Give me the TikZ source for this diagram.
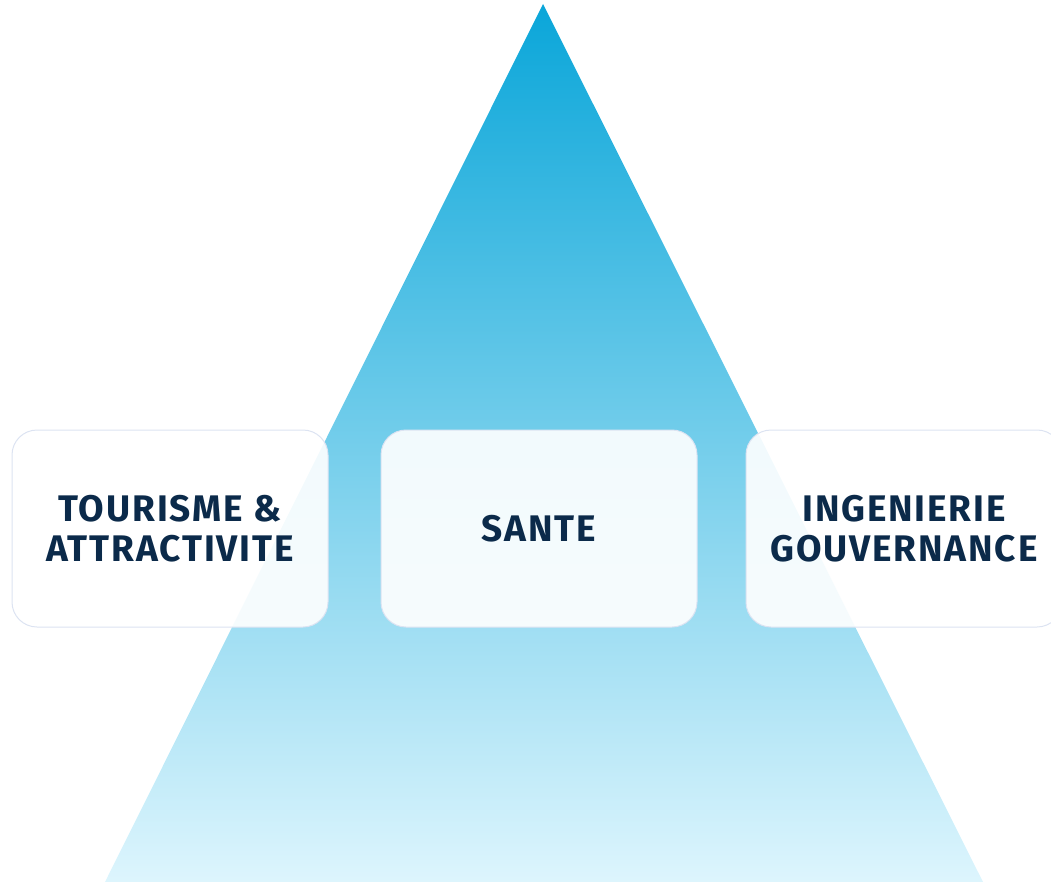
\documentclass[tikz,border=0pt]{standalone}
\usepackage{fontspec}
\setmainfont{Fira Sans}
\newfontfamily\pillarfont[LetterSpace=5]{Fira Sans}
\usetikzlibrary{positioning}

\definecolor{navytext}{HTML}{0B2A4A}
\definecolor{topblue}{HTML}{0AA6D9}
\definecolor{baseblue}{HTML}{DDF5FD}
\definecolor{boxline}{HTML}{DCE3F2}

\begin{document}
\begin{tikzpicture}[x=1pt, y=-1pt]
                \tikzset{pillar/.style={draw=boxline, line width=1pt, fill=white, fill opacity=0.91, text opacity=1,
                    rounded corners=25pt, minimum width=316pt, minimum height=197pt, align=center,
                    text=navytext, font=\pillarfont\fontsize{37}{40}\selectfont\bfseries}}

                % CANVAS
                \useasboundingbox (0,0) rectangle (1051,882);
                \clip (0,0) rectangle (1051,882);

                % PYRAMID
                \coordinate (apex) at (543,4);
                \coordinate (baseleft) at (105,882);
                \coordinate (baseright) at (983,882);
                \shade[top color=topblue, bottom color=baseblue] (apex) -- (baseright) -- (baseleft) -- cycle;

                % PILLARS
                \node[pillar] (sante) at (539,528.5) {SANTE};
                \node[pillar] (tourisme) at (170,528.5) {TOURISME \&\\ATTRACTIVITE};
                \node[pillar] (ingenierie) at (904,528.5) {INGENIERIE\\GOUVERNANCE};

            \end{tikzpicture}
\end{document}
